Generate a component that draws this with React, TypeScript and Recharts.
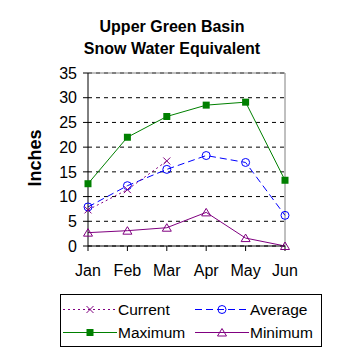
import React from 'react';
import { LineChart, Line, XAxis, YAxis, CartesianGrid, ReferenceLine, Legend } from 'recharts';

const months = ['Jan', 'Feb', 'Mar', 'Apr', 'May', 'Jun'];
const current: (number | null)[] = [7.3, 11.4, 17.2, null, null, null];
const average = [7.9, 12.2, 15.5, 18.3, 16.9, 6.2];
const maximum = [12.6, 22.0, 26.2, 28.5, 29.1, 13.3];
const minimum = [2.7, 3.1, 3.7, 6.8, 1.6, 0];
const yTicks = [0, 5, 10, 15, 20, 25, 30, 35];

const data = months.map((m, i) => ({
  month: m,
  current: current[i],
  average: average[i],
  maximum: maximum[i],
  minimum: minimum[i],
}));

const FONT = '"Liberation Sans", Arial, sans-serif';
const PURPLE = '#800080';
const BLUE = '#0000FF';
const GREEN = '#008000';

const XMark = ({ cx, cy }: { cx: number; cy: number }) => (
  <g>
    <line x1={cx - 3.5} y1={cy - 3.5} x2={cx + 3.5} y2={cy + 3.5} stroke={PURPLE} strokeWidth={1} />
    <line x1={cx - 3.5} y1={cy + 3.5} x2={cx + 3.5} y2={cy - 3.5} stroke={PURPLE} strokeWidth={1} />
  </g>
);
const CircleMark = ({ cx, cy }: { cx: number; cy: number }) => (
  <circle cx={cx} cy={cy} r={4} stroke={BLUE} strokeWidth={1} fill="none" />
);
const SquareMark = ({ cx, cy }: { cx: number; cy: number }) => (
  <rect x={cx - 3.5} y={cy - 3.5} width={7} height={7} fill={GREEN} />
);
const TriMark = ({ cx, cy }: { cx: number; cy: number }) => (
  <polygon
    points={`${cx},${cy - 4} ${cx - 4.5},${cy + 3.5} ${cx + 4.5},${cy + 3.5}`}
    stroke={PURPLE}
    strokeWidth={1}
    fill="none"
  />
);

const makeDot = (Comp: any) => (props: any) => {
  const { cx, cy, index, value } = props;
  if (cx == null || cy == null || value == null) return <g key={`e${index}`} />;
  return <Comp key={`d${index}`} cx={cx} cy={cy} />;
};

const legendItems = [
  { name: 'Current', color: PURPLE, dash: '2 3', Mark: XMark, col: 0, row: 0 },
  { name: 'Average', color: BLUE, dash: '7 4', Mark: CircleMark, col: 1, row: 0 },
  { name: 'Maximum', color: GREEN, dash: undefined, Mark: SquareMark, col: 0, row: 1 },
  { name: 'Minimum', color: PURPLE, dash: undefined, Mark: TriMark, col: 1, row: 1 },
];

const LegendBox = () => (
  <svg width={262} height={53} style={{ display: 'block' }}>
    <rect x={0.5} y={0.5} width={261} height={52} fill="white" stroke="black" strokeWidth={1} />
    {legendItems.map((it) => {
      const x0 = it.col === 0 ? 3 : 135;
      const y = it.row === 0 ? 15.5 : 38.5;
      const M = it.Mark;
      return (
        <g key={it.name}>
          <line x1={x0} y1={y} x2={x0 + 54} y2={y} stroke={it.color} strokeWidth={1} strokeDasharray={it.dash} />
          <M cx={x0 + 27} cy={y} />
          <text x={x0 + 55} y={y} dy="0.36em" fontFamily={FONT} fontSize={15.5} fill="black">
            {it.name}
          </text>
        </g>
      );
    })}
  </svg>
);

export default function App() {
  return (
    <div style={{ position: 'absolute', left: 0, top: 0, width: 358, height: 358, background: 'white' }}>
      <div
        style={{
          position: 'absolute',
          left: 0,
          top: 16,
          width: 344,
          textAlign: 'center',
          fontFamily: FONT,
          fontWeight: 'bold',
          fontSize: 16,
          lineHeight: '22px',
          color: 'black',
          zIndex: 2,
        }}
      >
        <div>Upper Green Basin</div>
        <div>Snow Water Equivalent</div>
      </div>
      <LineChart width={358} height={358} data={data} margin={{ top: 73, right: 73, left: 0, bottom: 82 }}>
        <CartesianGrid vertical={false} stroke="black" strokeDasharray="4 4" />
        <XAxis
          dataKey="month"
          interval={0}
          height={30}
          tickSize={5}
          tickMargin={14}
          stroke="black"
          tick={{ fill: 'black', fontSize: 16, fontFamily: FONT }}
          tickLine={{ stroke: 'black' }}
          axisLine={{ stroke: 'black' }}
        />
        <YAxis
          domain={[0, 35]}
          ticks={yTicks}
          interval={0}
          width={88}
          tickSize={5}
          tickMargin={6}
          stroke="black"
          tick={{ fill: 'black', fontSize: 16, fontFamily: FONT }}
          tickLine={{ stroke: 'black' }}
          axisLine={{ stroke: 'black' }}
          label={{
            content: () => (
              <text
                x={35}
                y={158}
                transform="rotate(-90 35 158)"
                textAnchor="middle"
                dominantBaseline="central"
                fontFamily={FONT}
                fontWeight="bold"
                fontSize={18}
                fill="black"
              >
                Inches
              </text>
            ),
          }}
        />
        <ReferenceLine y={35} stroke="#808080" strokeWidth={1} />
        <ReferenceLine x="Jun" stroke="#808080" strokeWidth={1} />
        <Legend
          layout="horizontal"
          verticalAlign="middle"
          align="center"
          wrapperStyle={{ position: 'absolute', left: 60, top: 294, width: 262, height: 53 }}
          content={() => <LegendBox />}
        />
        <Line
          type="linear"
          dataKey="maximum"
          stroke={GREEN}
          strokeWidth={1}
          dot={makeDot(SquareMark)}
          activeDot={false}
          isAnimationActive={false}
        />
        <Line
          type="linear"
          dataKey="minimum"
          stroke={PURPLE}
          strokeWidth={1}
          dot={makeDot(TriMark)}
          activeDot={false}
          isAnimationActive={false}
        />
        <Line
          type="linear"
          dataKey="average"
          stroke={BLUE}
          strokeWidth={1}
          strokeDasharray="7 4"
          dot={makeDot(CircleMark)}
          activeDot={false}
          isAnimationActive={false}
        />
        <Line
          type="linear"
          dataKey="current"
          stroke={PURPLE}
          strokeWidth={1}
          strokeDasharray="2 3"
          dot={makeDot(XMark)}
          activeDot={false}
          connectNulls={false}
          isAnimationActive={false}
        />
      </LineChart>
    </div>
  );
}
